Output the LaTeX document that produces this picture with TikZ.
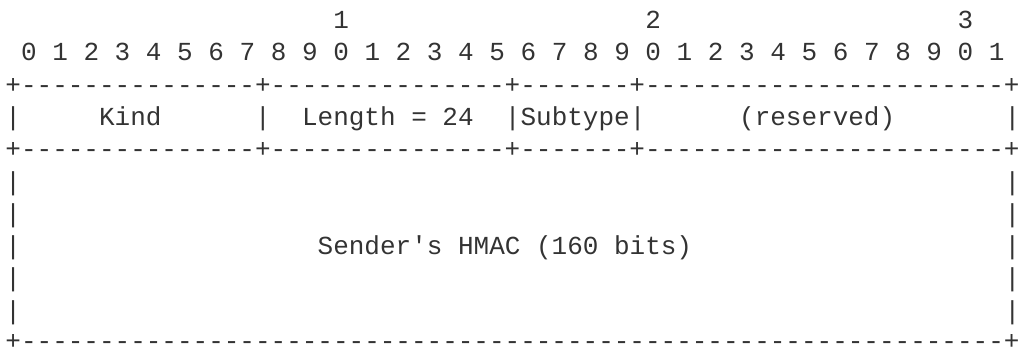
\documentclass[tikz,border=0pt]{standalone}
\usepackage{fontspec}
\setmonofont{Liberation Mono}
\definecolor{textgray}{HTML}{333333}
\newcommand{\asciifont}{\ttfamily\fontsize{19.5pt}{24pt}\selectfont}
\tikzset{
  ascii/.style={anchor=base west, inner sep=0pt, font=\asciifont, text=textgray}
}
\begin{document}
\begin{tikzpicture}[x=0.75pt,y=-0.75pt]
\useasboundingbox (0,0) rectangle (1019,350);
% bit numbers
\node[ascii] (tens1) at ({5.2+15.61*21},28.5) {1};
\node[ascii] (tens2) at ({5.2+15.61*41},28.5) {2};
\node[ascii] (tens3) at ({5.2+15.61*61},28.5) {3};
\foreach \i in {0,...,31}{
  \pgfmathtruncatemacro{\d}{mod(\i,10)}
  \node[ascii] (bit\i) at ({5.2+15.61*(1+2*\i)},60.8) {\d};
}
% borders
\node[ascii] (topline) at (5.2,93.1) {+---------------+---------------+-------+-----------------------+};
\node[ascii] (midline) at (5.2,157.7) {+---------------+---------------+-------+-----------------------+};
\node[ascii, text depth=0pt] (botline) at (5.2,349.5) {+---------------------------------------------------------------+};
% first word
\node[ascii] (lbar4) at (5.2,125.4) {|};
\node[ascii] (kind) at ({5.2+15.61*6},125.4) {Kind};
\node[ascii] (kbar) at ({5.2+15.61*16},125.4) {|};
\node[ascii] (length) at ({5.2+15.61*19},125.4) {Length = 24};
\node[ascii] (subtype) at ({5.2+15.61*32},125.4) {|Subtype|};
\node[ascii] (reserved) at ({5.2+15.61*47},125.4) {(reserved)};
\node[ascii] (rbar4) at ({5.2+15.61*64},125.4) {|};
% hmac field
\foreach \r in {6,...,10}{
  \node[ascii] (lbar\r) at (5.2,{28.5+32.3*(\r-1)}) {|};
  \node[ascii] (rbar\r) at ({5.2+15.61*64},{28.5+32.3*(\r-1)}) {|};
}
\node[ascii] (hmac) at ({5.2+15.61*20},254.6) {Sender's HMAC (160 bits)};
\end{tikzpicture}
\end{document}
